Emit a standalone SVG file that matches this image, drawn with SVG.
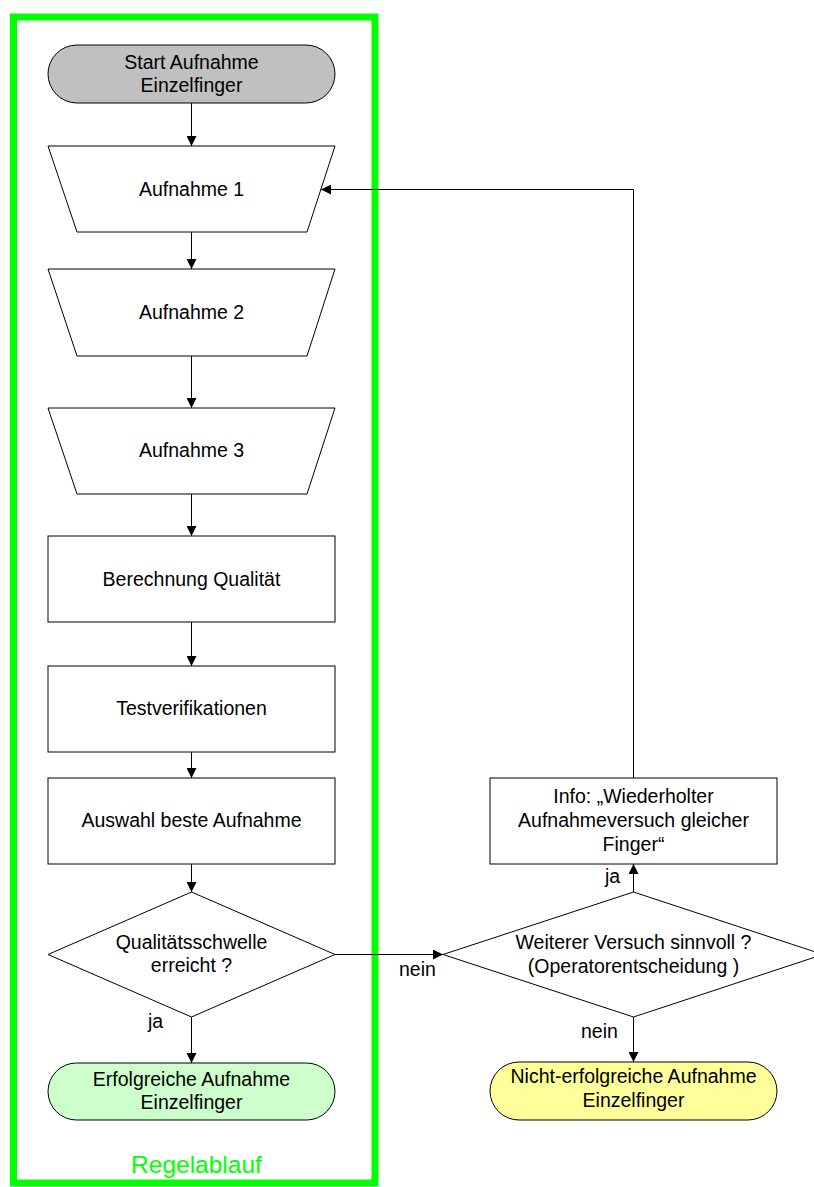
<svg xmlns="http://www.w3.org/2000/svg" width="814" height="1187" viewBox="0 0 814 1187">
<style>
  .shape { stroke: #000; stroke-width: 1; fill: #fff; }
  .t { font-family: "Liberation Sans", Arial, sans-serif; font-size: 19.5px; fill: #000; text-anchor: middle; }
  .lbl { font-family: "Liberation Sans", Arial, sans-serif; font-size: 19.5px; fill: #000; }
  .conn { stroke: #000; stroke-width: 1; fill: none; }
</style>
<defs>
  <marker id="arr" viewBox="0 0 10 10" refX="10" refY="5" markerWidth="10" markerHeight="10" markerUnits="userSpaceOnUse" orient="auto">
    <path d="M0,0 L10,5 L0,10 z" fill="#000"/>
  </marker>
</defs>
<rect width="814" height="1187" fill="#fff"/>

<g id="lane">
  <rect x="13.5" y="17" width="361.5" height="1166" fill="none" stroke="#00ff00" stroke-width="7"/>
  <text x="196.5" y="1173" style="font-family:'Liberation Sans',Arial,sans-serif;font-size:24.5px;fill:#00ff00;text-anchor:middle">Regelablauf</text>
</g>

<g id="connectors">
  <line class="conn" x1="191.5" y1="103" x2="191.5" y2="146" marker-end="url(#arr)"/>
  <line class="conn" x1="191.5" y1="232" x2="191.5" y2="269" marker-end="url(#arr)"/>
  <line class="conn" x1="191.5" y1="356" x2="191.5" y2="408" marker-end="url(#arr)"/>
  <line class="conn" x1="191.5" y1="494" x2="191.5" y2="536" marker-end="url(#arr)"/>
  <line class="conn" x1="191.5" y1="622" x2="191.5" y2="666" marker-end="url(#arr)"/>
  <line class="conn" x1="191.5" y1="752" x2="191.5" y2="778" marker-end="url(#arr)"/>
  <line class="conn" x1="191.5" y1="864" x2="191.5" y2="892" marker-end="url(#arr)"/>
  <line class="conn" x1="191.5" y1="1017" x2="191.5" y2="1063" marker-end="url(#arr)"/>
  <line class="conn" x1="335" y1="954.5" x2="443" y2="954.5" marker-end="url(#arr)"/>
  <line class="conn" x1="633.5" y1="892" x2="633.5" y2="864" marker-end="url(#arr)"/>
  <line class="conn" x1="633.5" y1="1017" x2="633.5" y2="1062" marker-end="url(#arr)"/>
  <polyline class="conn" points="633.5,778 633.5,189.5 321,189.5" marker-end="url(#arr)"/>
  <text class="lbl" x="148" y="1028">ja</text>
  <text class="lbl" x="399" y="976">nein</text>
  <text class="lbl" x="605" y="883">ja</text>
  <text class="lbl" x="581" y="1038">nein</text>
</g>

<g id="start">
  <rect x="48" y="45" width="287" height="58" rx="29" ry="29" class="shape" style="fill:#c0c0c0"/>
  <text class="t" x="191.5" y="69">Start Aufnahme</text>
  <text class="t" x="191.5" y="92">Einzelfinger</text>
</g>

<g id="aufnahme1">
  <polygon class="shape" points="48,146 335,146 307,232 77,232"/>
  <text class="t" x="191.5" y="196">Aufnahme 1</text>
</g>

<g id="aufnahme2">
  <polygon class="shape" points="48,269 335,269 307,356 77,356"/>
  <text class="t" x="191.5" y="319">Aufnahme 2</text>
</g>

<g id="aufnahme3">
  <polygon class="shape" points="48,408 335,408 307,494 77,494"/>
  <text class="t" x="191.5" y="457">Aufnahme 3</text>
</g>

<g id="berechnung">
  <rect class="shape" x="48" y="536" width="287" height="86"/>
  <text class="t" x="191.5" y="586">Berechnung Qualität</text>
</g>

<g id="testverifikationen">
  <rect class="shape" x="48" y="666" width="287" height="86"/>
  <text class="t" x="191.5" y="715">Testverifikationen</text>
</g>

<g id="auswahl">
  <rect class="shape" x="48" y="778" width="287" height="86"/>
  <text class="t" x="191.5" y="827">Auswahl beste Aufnahme</text>
</g>

<g id="qualitaetsschwelle">
  <polygon class="shape" points="191.5,892 335,954.5 191.5,1017 48,954.5"/>
  <text class="t" x="191.5" y="949">Qualitätsschwelle</text>
  <text class="t" x="191.5" y="972">erreicht ?</text>
</g>

<g id="erfolgreich">
  <rect x="48" y="1063" width="287" height="57" rx="28.5" ry="28.5" class="shape" style="fill:#ccffcc"/>
  <text class="t" x="191.5" y="1086">Erfolgreiche Aufnahme</text>
  <text class="t" x="191.5" y="1109">Einzelfinger</text>
</g>

<g id="info">
  <rect class="shape" x="490" y="778" width="287" height="86"/>
  <text class="t" x="633.5" y="803">Info: „Wiederholter</text>
  <text class="t" x="633.5" y="827">Aufnahmeversuch gleicher</text>
  <text class="t" x="633.5" y="851">Finger“</text>
</g>

<g id="weiterer">
  <polygon class="shape" points="633.5,892 823,954.5 633.5,1017 443,954.5"/>
  <text class="t" x="633.5" y="949">Weiterer Versuch sinnvoll ?</text>
  <text class="t" x="633.5" y="973">(Operatorentscheidung )</text>
</g>

<g id="nichterfolgreich">
  <rect x="490" y="1062" width="287" height="58" rx="29" ry="29" class="shape" style="fill:#ffff99"/>
  <text class="t" x="633.5" y="1083">Nicht-erfolgreiche Aufnahme</text>
  <text class="t" x="633.5" y="1107">Einzelfinger</text>
</g>
</svg>
